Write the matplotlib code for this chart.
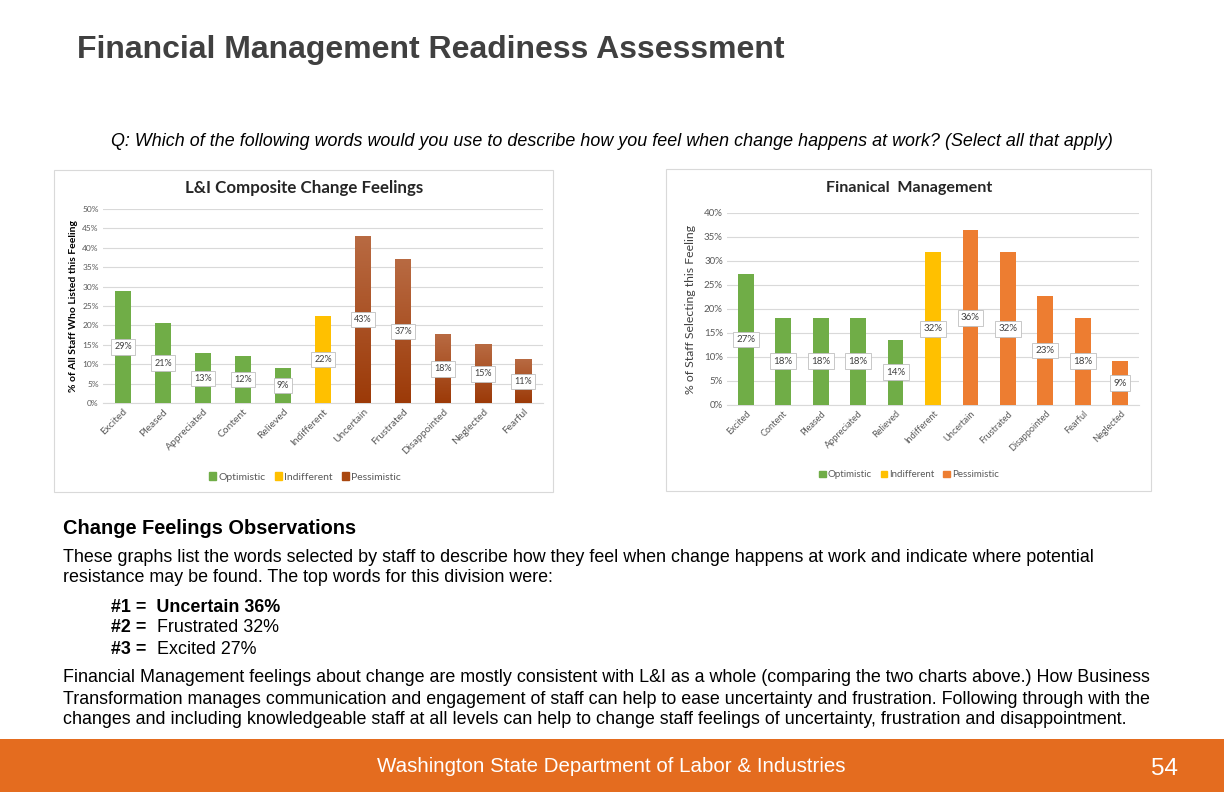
import numpy as np
import matplotlib
matplotlib.use("Agg")
import matplotlib.pyplot as plt
from matplotlib.patches import Rectangle, Patch
from matplotlib.colors import LinearSegmentedColormap

# ---- data ----
li_cats = ["Excited", "Pleased", "Appreciated", "Content", "Relieved", "Indifferent",
           "Uncertain", "Frustrated", "Disappointed", "Neglected", "Fearful"]
li_vals = [28.9, 20.6, 12.8, 12.2, 9.1, 22.3, 43.0, 36.9, 17.6, 15.0, 11.1]
li_groups = ["O", "O", "O", "O", "O", "I", "P", "P", "P", "P", "P"]

fm_cats = ["Excited", "Content", "Pleased", "Appreciated", "Relieved", "Indifferent",
           "Uncertain", "Frustrated", "Disappointed", "Fearful", "Neglected"]
fm_vals = [27.3, 18.2, 18.2, 18.2, 13.6, 31.8, 36.4, 31.8, 22.7, 18.2, 9.1]
fm_groups = ["O", "O", "O", "O", "O", "I", "P", "P", "P", "P", "P"]

legend_names = {"O": "Optimistic", "I": "Indifferent", "P": "Pessimistic"}

W, H = 1224, 792
GREEN = "#70AD47"
YELLOW = "#FFC000"
BROWN = "#A3440F"
ORANGE = "#ED7D31"
GRID = "#D9D9D9"
TXT = "#595959"

CHART_FONT = ["Lato", "DejaVu Sans"]
BODY_FONT = ["Liberation Sans", "DejaVu Sans"]

fig = plt.figure(figsize=(W / 100, H / 100), dpi=100)
fig.patch.set_facecolor("white")


def px_axes(x0, y0, x1, y1):
    # pixel box (top-left origin) -> figure axes
    ax = fig.add_axes([x0 / W, 1 - y1 / H, (x1 - x0) / W, (y1 - y0) / H])
    ax.set_zorder(2)
    return ax


def px_rect(x0, y0, x1, y1, **kw):
    r = Rectangle((x0 / W, 1 - y1 / H), (x1 - x0) / W, (y1 - y0) / H,
                  transform=fig.transFigure, zorder=-5, **kw)
    fig.add_artist(r)
    return r


def ftext(x, y, s, **kw):
    return fig.text(x / W, 1 - y / H, s, **kw)


def draw_chart(ax, cats, vals, groups, colors, ymax, tick_fs, xtick_fs, label_fs,
               width, gradient=False):
    x = np.arange(len(cats))
    cols = [colors[g] for g in groups]
    bars = ax.bar(x, vals, width=width, color=cols, zorder=3)

    if gradient:
        cmap = LinearSegmentedColormap.from_list("brn", ["#9C3A08", "#B86A42"])
        grad = np.linspace(0, 1, 100).reshape(-1, 1)
        for b, g in zip(bars, groups):
            if g == "P":
                b.set_alpha(0)
                ax.imshow(grad, cmap=cmap, origin="lower", aspect="auto",
                          extent=(b.get_x(), b.get_x() + b.get_width(), 0, b.get_height()),
                          zorder=3)
    ax.set_xlim(-0.5, len(cats) - 0.5)
    ax.set_ylim(0, ymax)

    for xi, v in zip(x, vals):
        ax.text(xi, v / 2, f"{round(v)}%", ha="center", va="center",
                fontsize=label_fs, color="#404040", family=CHART_FONT, zorder=5,
                bbox=dict(boxstyle="square,pad=0.35", facecolor="white",
                          edgecolor="#BFBFBF", linewidth=0.6))

    ticks = np.arange(0, ymax + 0.1, 5)
    ax.set_yticks(ticks)
    ax.set_yticklabels([f"{int(t)}%" for t in ticks],
                       fontsize=tick_fs, color=TXT, family=CHART_FONT)
    ax.set_xticks(x)
    ax.set_xticklabels(cats, rotation=45, ha="right", rotation_mode="anchor",
                       fontsize=xtick_fs, color=TXT, family=CHART_FONT)
    ax.tick_params(length=0, pad=3)
    ax.grid(axis="y", color=GRID, linewidth=0.8, zorder=0)
    ax.set_axisbelow(True)
    for s in ["top", "right", "left"]:
        ax.spines[s].set_visible(False)
    ax.spines["bottom"].set_color(GRID)
    ax.patch.set_alpha(0)


# ---- slide title and question ----
ftext(77, 50, "Financial Management Readiness Assessment", fontsize=23,
      fontweight="bold", color="#404040", family=BODY_FONT, va="center")
ftext(612, 142, "Q: Which of the following words would you use to describe how you feel "
      "when change happens at work? (Select all that apply)",
      fontsize=12.9, style="italic", color="black", family=BODY_FONT,
      ha="center", va="center")

# ---- left chart ----
px_rect(54, 170, 553, 492, facecolor="white", edgecolor=GRID, linewidth=0.8)
ax1 = px_axes(103, 209, 543, 403)
draw_chart(ax1, li_cats, li_vals, li_groups,
           {"O": GREEN, "I": YELLOW, "P": BROWN}, 50, 6, 7.4, 6.5, 0.4, gradient=True)
ftext(304, 188, "L&I Composite Change Feelings", fontsize=12.2, fontweight="bold",
      color="#262626", family=CHART_FONT, ha="center", va="center")
ftext(73, 306, "% of All Staff Who Listed this Feeling", fontsize=7.5,
      fontweight="bold", color="black", family=CHART_FONT, rotation=90,
      ha="center", va="center")
h1 = [Patch(color=c, label=legend_names[k])
      for k, c in [("O", GREEN), ("I", YELLOW), ("P", "#A9470F")]]
fig.legend(handles=h1, loc="center", bbox_to_anchor=(305 / W, 1 - 477 / H),
           ncol=3, frameon=False, handlelength=0.7, handleheight=0.7,
           handletextpad=0.2, columnspacing=0.9, prop={"family": CHART_FONT, "size": 7.5},
           labelcolor=TXT)

# ---- right chart ----
px_rect(666, 169, 1151, 491, facecolor="white", edgecolor=GRID, linewidth=0.8)
ax2 = px_axes(727, 213, 1139, 405)
draw_chart(ax2, fm_cats, fm_vals, fm_groups,
           {"O": GREEN, "I": YELLOW, "P": ORANGE}, 40, 7, 6.6, 7, 0.42)
ftext(909, 188, "Finanical  Management", fontsize=11.6, fontweight="bold",
      color="#262626", family=CHART_FONT, ha="center", va="center")
ftext(690, 310, "% of Staff Selecting this Feeling", fontsize=8.8,
      color="#404040", family=CHART_FONT, rotation=90, ha="center", va="center")
h2 = [Patch(color=c, label=legend_names[k])
      for k, c in [("O", GREEN), ("I", YELLOW), ("P", ORANGE)]]
fig.legend(handles=h2, loc="center", bbox_to_anchor=(909 / W, 1 - 475 / H),
           ncol=3, frameon=False, handlelength=0.7, handleheight=0.7,
           handletextpad=0.2, columnspacing=0.9, prop={"family": CHART_FONT, "size": 7},
           labelcolor=TXT)

# ---- observations text ----
fs = 12.9
ftext(63, 529, "Change Feelings Observations", fontsize=14.4, fontweight="bold",
      color="black", family=BODY_FONT, va="center")
ftext(63, 557, "These graphs list the words selected by staff to describe how they feel "
      "when change happens at work and indicate where potential",
      fontsize=fs, color="black", family=BODY_FONT, va="center")
ftext(63, 578, "resistance may be found. The top words for this division were:",
      fontsize=fs, color="black", family=BODY_FONT, va="center")

ftext(111, 607, "#1 =  Uncertain 36%", fontsize=fs, fontweight="bold",
      color="black", family=BODY_FONT, va="center")
ftext(111, 628, "#2 =", fontsize=fs, fontweight="bold", color="black",
      family=BODY_FONT, va="center")
ftext(157, 628, "Frustrated 32%", fontsize=fs, color="black",
      family=BODY_FONT, va="center")
ftext(111, 649, "#3 =", fontsize=fs, fontweight="bold", color="black",
      family=BODY_FONT, va="center")
ftext(157, 649, "Excited 27%", fontsize=fs, color="black",
      family=BODY_FONT, va="center")

para = ["Financial Management feelings about change are mostly consistent with L&I as a "
        "whole (comparing the two charts above.) How Business",
        "Transformation manages communication and engagement of staff can help to ease "
        "uncertainty and frustration. Following through with the",
        "changes and including knowledgeable staff at all levels can help to change staff "
        "feelings of uncertainty, frustration and disappointment."]
for i, line in enumerate(para):
    ftext(63, 678 + 21 * i, line, fontsize=fs, color="black", family=BODY_FONT,
          va="center")

# ---- footer ----
px_rect(0, 739, W, H, facecolor="#E46C1F", edgecolor="none")
ftext(611, 766, "Washington State Department of Labor & Industries", fontsize=14.8,
      color="white", family=BODY_FONT, ha="center", va="center")
ftext(1164, 769, "54", fontsize=17.5, color="white", family=BODY_FONT,
      ha="center", va="center")

fig.savefig("out.png", dpi=100)
